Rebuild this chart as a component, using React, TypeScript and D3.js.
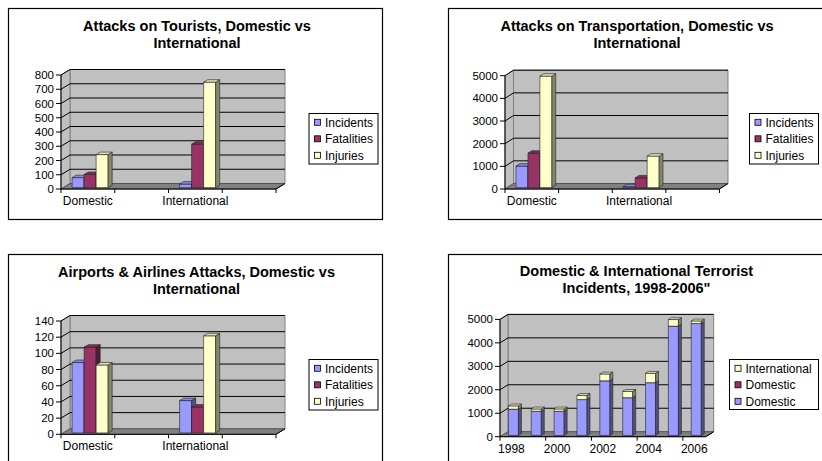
import React from "react";
import * as d3 from "d3";

const FONT = "Arial, 'Liberation Sans', Helvetica, sans-serif";

// Category slots along the floor; the blank slots keep the spacing between groups
const pairCategories = ["Domestic", "", "International", ""];
const measureNames = ["Incidents", "Fatalities", "Injuries"];

const touristIncidents = [70, null, 25, null];
const touristFatalities = [92, null, 305, null];
const touristInjuries = [232, null, 740, null];
const touristTicks = [0, 100, 200, 300, 400, 500, 600, 700, 800];

const transportIncidents = [950, null, 40, null];
const transportFatalities = [1520, null, 430, null];
const transportInjuries = [4920, null, 1390, null];
const transportTicks = [0, 1000, 2000, 3000, 4000, 5000];

const airportIncidents = [87, null, 40, null];
const airportFatalities = [106, null, 32, null];
const airportInjuries = [84, null, 120, null];
const airportTicks = [0, 20, 40, 60, 80, 100, 120, 140];

const years = ["1998", "1999", "2000", "2001", "2002", "2003", "2004", "2005", "2006"];
const domesticIncidents = [1120, 1030, 1030, 1530, 2330, 1610, 2250, 4660, 4770];
const domesticSecondary = [0, 0, 0, 0, 0, 0, 0, 0, 0];
const internationalIncidents = [140, 100, 100, 180, 290, 270, 400, 280, 110];
const incidentTicks = [0, 1000, 2000, 3000, 4000, 5000];

const BLUE = "#9999FF";
const MAROON = "#993366";
const YELLOW = "#FFFFCC";

type Layout = { ax: number; ay: number; w: number; h: number; dx: number; dy: number };
type Series = { name: string; color: string; values: (number | null)[] };
type Box = { x: number; y: number; w: number; h: number };

type BarProps = {
  x0: number; x1: number; yb: number; yt: number;
  f0: number; f1: number; dx: number; dy: number; color: string;
};

function Bar3D({ x0, x1, yb, yt, f0, f1, dx, dy, color }: BarProps) {
  const c = d3.color(color)!;
  const top = c.darker(0.35).formatHex();
  const side = c.darker(1.8).formatHex();
  const ax0 = x0 + f0 * dx, ax1 = x1 + f0 * dx;
  const bx0 = x0 + f1 * dx, bx1 = x1 + f1 * dx;
  const yb0 = yb - f0 * dy, yt0 = yt - f0 * dy;
  const yb1 = yb - f1 * dy, yt1 = yt - f1 * dy;
  return (
    <g stroke="#222" strokeWidth={0.6} strokeLinejoin="round">
      <rect x={ax0} y={yt0} width={ax1 - ax0} height={yb0 - yt0} fill={color} />
      <polygon points={`${ax1},${yb0} ${bx1},${yb1} ${bx1},${yt1} ${ax1},${yt0}`} fill={side} />
      <polygon points={`${ax0},${yt0} ${ax1},${yt0} ${bx1},${yt1} ${bx0},${yt1}`} fill={top} />
    </g>
  );
}

type PanelProps = {
  frame: Box;
  title: string[];
  titleX: number;
  titleY: number;
  L: Layout;
  ticks: number[];
  categories: string[];
  series: Series[];
  stacked?: boolean;
  barFrac: number;
  f0: number;
  f1: number;
  tickEvery: number;
  labelEvery: number;
  legendBox: Box;
  legendOrder: number[];
};

function Panel(p: PanelProps) {
  const { L, ticks, categories, series } = p;
  const yMax = ticks[ticks.length - 1];
  const y = d3.scaleLinear().domain([0, yMax]).range([L.ay, L.ay - L.h]);
  const x = d3.scaleBand<number>().domain(d3.range(categories.length)).range([L.ax, L.ax + L.w]);
  const bw = x.bandwidth();
  const groupW = bw * p.barFrac;
  const inner = d3.scaleBand<number>().domain(d3.range(series.length)).range([-groupW / 2, groupW / 2]);

  const bars: JSX.Element[] = [];
  if (p.stacked) {
    const rows = categories.map((_, i) => {
      const r: Record<string, number> = {};
      series.forEach((s, k) => (r["s" + k] = s.values[i] ?? 0));
      return r;
    });
    const stack = d3.stack<Record<string, number>>().keys(series.map((_, k) => "s" + k))(rows);
    categories.forEach((_, i) => {
      const cx = x(i)! + bw / 2;
      stack.forEach((layer, k) => {
        const [v0, v1] = layer[i];
        if (v1 - v0 <= 0) return;
        bars.push(
          <Bar3D key={`${i}-${k}`} x0={cx - groupW / 2} x1={cx + groupW / 2} yb={y(v0)} yt={y(v1)}
            f0={p.f0} f1={p.f1} dx={L.dx} dy={L.dy} color={series[k].color} />
        );
      });
    });
  } else {
    categories.forEach((_, i) => {
      const cx = x(i)! + bw / 2;
      series.forEach((s, k) => {
        const v = s.values[i];
        if (v == null) return;
        const bx = cx + inner(k)!;
        bars.push(
          <Bar3D key={`${i}-${k}`} x0={bx} x1={bx + inner.bandwidth()} yb={y(0)} yt={y(v)}
            f0={p.f0} f1={p.f1} dx={L.dx} dy={L.dy} color={s.color} />
        );
      });
    });
  }

  const { ax, ay, w, h, dx, dy } = L;
  const boundaries = d3.range(0, categories.length + 1, p.tickEvery);
  const lb = p.legendBox;

  return (
    <g>
      <rect x={p.frame.x} y={p.frame.y} width={p.frame.w} height={p.frame.h} fill="#fff" stroke="#000" strokeWidth={1.2} />
      {p.title.map((t, i) => (
        <text key={i} x={p.titleX} y={p.titleY + i * 17} textAnchor="middle" fontFamily={FONT} fontWeight="bold" fontSize={14.5} fill="#000">
          {t}
        </text>
      ))}
      {/* walls and floor */}
      <polygon points={`${ax + dx},${ay - dy} ${ax + dx + w},${ay - dy} ${ax + dx + w},${ay - dy - h} ${ax + dx},${ay - dy - h}`}
        fill="#C0C0C0" stroke="#808080" strokeWidth={1} />
      <polygon points={`${ax},${ay} ${ax + dx},${ay - dy} ${ax + dx},${ay - dy - h} ${ax},${ay - h}`}
        fill="#C0C0C0" stroke="#808080" strokeWidth={1} />
      <polygon points={`${ax},${ay} ${ax + w},${ay} ${ax + w + dx},${ay - dy} ${ax + dx},${ay - dy}`}
        fill="#808080" stroke="#555" strokeWidth={1} />
      {ticks.filter((t) => t > 0).map((t) => (
        <polyline key={t} points={`${ax},${y(t)} ${ax + dx},${y(t) - dy} ${ax + dx + w},${y(t) - dy}`}
          fill="none" stroke="#000" strokeWidth={1} />
      ))}
      {/* value axis */}
      <line x1={ax} y1={ay} x2={ax} y2={ay - h} stroke="#000" strokeWidth={1} />
      {ticks.map((t) => (
        <g key={t}>
          <line x1={ax - 5} y1={y(t)} x2={ax} y2={y(t)} stroke="#000" strokeWidth={1} />
          <text x={ax - 7} y={y(t)} dy="0.35em" textAnchor="end" fontFamily={FONT} fontSize={11.5} fill="#000">
            {t}
          </text>
        </g>
      ))}
      {/* category axis */}
      <line x1={ax} y1={ay} x2={ax + w} y2={ay} stroke="#000" strokeWidth={1} />
      <line x1={ax + w} y1={ay} x2={ax + w + dx} y2={ay - dy} stroke="#000" strokeWidth={1} />
      {boundaries.map((b) => {
        const bx = ax + b * bw;
        return <line key={b} x1={bx} y1={ay} x2={bx} y2={ay + 4} stroke="#000" strokeWidth={1} />;
      })}
      {categories.map((c, i) =>
        c && i % p.labelEvery === 0 ? (
          <text key={i} x={x(i)! + bw / 2} y={ay + 16} textAnchor="middle" fontFamily={FONT} fontSize={12} fill="#000">
            {c}
          </text>
        ) : null
      )}
      {bars}
      {/* legend */}
      <rect x={lb.x} y={lb.y} width={lb.w} height={lb.h} fill="#fff" stroke="#000" strokeWidth={1} />
      {p.legendOrder.map((k, j) => {
        const cy = lb.y + 8.8 + j * 16.5;
        return (
          <g key={j}>
            <rect x={lb.x + 5.5} y={cy - 3} width={6} height={6} fill={series[k].color} stroke="#000" strokeWidth={0.8} />
            <text x={lb.x + 16} y={cy} dy="0.35em" fontFamily={FONT} fontSize={12} fill="#000">
              {series[k].name}
            </text>
          </g>
        );
      })}
    </g>
  );
}

const clusterColors = [BLUE, MAROON, YELLOW];

function clustered(values: (number | null)[][]): Series[] {
  return values.map((v, k) => ({ name: measureNames[k], color: clusterColors[k], values: v }));
}

export default function App() {
  const yearSeries: Series[] = [
    { name: "Domestic", color: BLUE, values: domesticIncidents },
    { name: "Domestic", color: MAROON, values: domesticSecondary },
    { name: "International", color: YELLOW, values: internationalIncidents },
  ];
  return (
    <svg width={822} height={461} style={{ position: "absolute", left: 0, top: 0, background: "#fff" }}>
      <rect width={822} height={461} fill="#fff" />
      <Panel
        frame={{ x: 8.5, y: 8.5, w: 374, h: 211 }}
        title={["Attacks on Tourists, Domestic vs", "International"]}
        titleX={197} titleY={31}
        L={{ ax: 61, ay: 189, w: 215, h: 114, dx: 9, dy: 5.5 }}
        ticks={touristTicks}
        categories={pairCategories}
        series={clustered([touristIncidents, touristFatalities, touristInjuries])}
        barFrac={0.67} f0={0.25} f1={0.7} tickEvery={1} labelEvery={1}
        legendBox={{ x: 309, y: 113.5, w: 69, h: 50.5 }}
        legendOrder={[0, 1, 2]}
      />
      <Panel
        frame={{ x: 448.5, y: 8.5, w: 400, h: 211 }}
        title={["Attacks on Transportation, Domestic vs", "International"]}
        titleX={637} titleY={31}
        L={{ ax: 505, ay: 189, w: 214.5, h: 113.3, dx: 8.5, dy: 5.5 }}
        ticks={transportTicks}
        categories={pairCategories}
        series={clustered([transportIncidents, transportFatalities, transportInjuries])}
        barFrac={0.67} f0={0.25} f1={0.7} tickEvery={1} labelEvery={1}
        legendBox={{ x: 749.5, y: 113.5, w: 69, h: 50.5 }}
        legendOrder={[0, 1, 2]}
      />
      <Panel
        frame={{ x: 8.5, y: 254.5, w: 374, h: 220 }}
        title={["Airports & Airlines Attacks, Domestic vs", "International"]}
        titleX={196.5} titleY={276.5}
        L={{ ax: 61, ay: 434.3, w: 215, h: 113.3, dx: 9, dy: 5.5 }}
        ticks={airportTicks}
        categories={pairCategories}
        series={clustered([airportIncidents, airportFatalities, airportInjuries])}
        barFrac={0.67} f0={0.25} f1={0.7} tickEvery={1} labelEvery={1}
        legendBox={{ x: 309, y: 359.5, w: 69, h: 50.5 }}
        legendOrder={[0, 1, 2]}
      />
      <Panel
        frame={{ x: 448.5, y: 254.5, w: 400, h: 220 }}
        title={["Domestic & International Terrorist", "Incidents, 1998-2006\""]}
        titleX={636.5} titleY={275.5}
        L={{ ax: 500, ay: 436.7, w: 205.7, h: 117.3, dx: 8, dy: 5 }}
        ticks={incidentTicks}
        categories={years}
        series={yearSeries}
        stacked
        barFrac={0.44} f0={0.25} f1={0.62} tickEvery={2} labelEvery={2}
        legendBox={{ x: 729.5, y: 359.5, w: 89, h: 50 }}
        legendOrder={[2, 1, 0]}
      />
    </svg>
  );
}
